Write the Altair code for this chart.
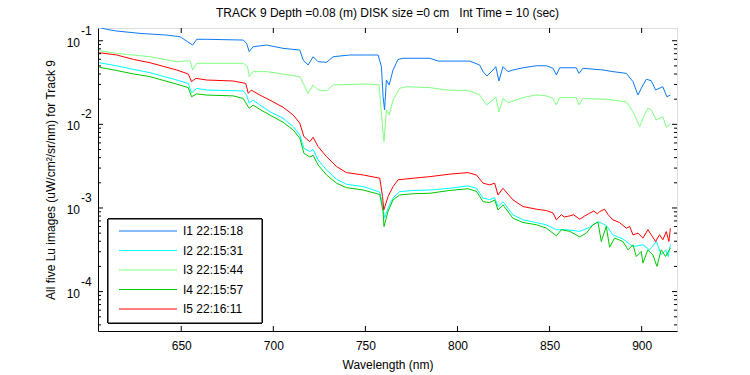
import altair as alt
import pandas as pd

# ---- data ----
series_names = ["I1 22:15:18", "I2 22:15:31", "I3 22:15:44", "I4 22:15:57", "I5 22:16:11"]
series_colors = ["#0a7af0", "#00ffff", "#80ff80", "#00c800", "#ff0000"]

wl_I1 = [605.0, 609.5, 615.0, 627.6, 642.0, 649.3, 656.2, 658.4, 663.8, 683.6, 685.5, 686.9, 689.0, 696.3,
         705.3, 714.4, 716.2, 718.9, 721.6, 724.3, 728.9, 732.5, 741.5, 750.6, 756.9, 758.7, 759.6, 760.4,
         761.4, 762.9, 765.0, 767.7, 770.5, 785.0, 789.5, 806.6, 812.0, 813.9, 816.0, 819.3, 820.8, 822.5,
         824.7, 827.4, 830.1, 835.6, 842.8, 848.3, 851.9, 853.7, 855.5, 864.5, 866.0, 868.1, 879.0, 884.4,
         891.7, 895.3, 898.0, 899.8, 902.5, 905.2, 907.6, 911.5, 913.7, 915.6]
lu_I1 = [0.145, 0.137, 0.1306, 0.1225, 0.1169, 0.1117, 0.0889, 0.104, 0.104, 0.1019, 0.0931, 0.074, 0.0847, 0.0889,
         0.0811, 0.0774, 0.0587, 0.0513, 0.0644, 0.0561, 0.0552, 0.0644, 0.0675, 0.0675, 0.0675, 0.0489, 0.0214, 0.01486,
         0.0339, 0.0296, 0.0447, 0.0598, 0.0617, 0.0617, 0.0571, 0.0571, 0.0513, 0.0427, 0.0378, 0.0447, 0.049, 0.033,
         0.049, 0.0427, 0.0447, 0.0475, 0.0502, 0.0502, 0.0468, 0.0389, 0.0475, 0.0475, 0.0407, 0.0468, 0.0447, 0.0427,
         0.0407, 0.0324, 0.0224, 0.027, 0.0346, 0.0333, 0.0258, 0.0282, 0.0214, 0.0224]

wl_I2 = [605.5, 615.0, 624.0, 633.0, 647.5, 653.8, 655.6, 658.4, 663.8, 683.6, 685.5, 686.9, 689.0, 692.7,
         698.1, 705.3, 710.8, 714.4, 716.6, 719.8, 721.6, 724.3, 728.9, 734.3, 739.7, 748.8, 757.8, 759.3,
         760.4, 762.3, 765.0, 768.6, 775.9, 785.0, 795.8, 805.7, 810.3, 813.9, 817.5, 820.2, 822.0, 824.7,
         830.1, 835.6, 842.8, 848.3, 853.7, 859.1, 866.4, 871.8, 876.3, 880.8, 884.4, 889.8, 895.3, 900.7,
         904.3, 908.0, 910.6, 913.0, 914.4, 915.6]
lu_I2 = [0.0546, 0.0501, 0.0455, 0.0415, 0.0339, 0.0309, 0.0239, 0.0269, 0.0257, 0.0251, 0.0224, 0.0179, 0.0195, 0.0171,
         0.01419, 0.01183, 0.0094, 0.00746, 0.00518, 0.00472, 0.00501, 0.00376, 0.00285, 0.00221, 0.00192, 0.0018, 0.00155, 0.00109,
         0.000755, 0.001, 0.00132, 0.00157, 0.00162, 0.00164, 0.00172, 0.00184, 0.00172, 0.00131, 0.00126, 0.00133, 0.00104, 0.00119,
         0.000828, 0.000721, 0.00067, 0.000628, 0.00055, 0.00055, 0.000525, 0.000589, 0.000689, 0.000617, 0.000476, 0.000427, 0.000346, 0.000363,
         0.000316, 0.000398, 0.000275, 0.000316, 0.000263, 0.000363]

wl_I3 = [605.5, 615.0, 633.0, 647.5, 654.7, 656.2, 658.4, 683.6, 686.0, 686.9, 689.0, 696.3, 714.4, 718.9,
         721.6, 724.3, 728.9, 732.5, 750.6, 757.4, 759.3, 760.1, 761.4, 762.9, 765.0, 768.6, 772.3, 785.0,
         794.0, 806.6, 812.0, 815.8, 819.3, 820.8, 822.5, 824.7, 827.4, 835.6, 842.8, 848.3, 851.9, 853.7,
         855.5, 864.5, 866.0, 868.1, 879.0, 884.4, 891.7, 895.3, 898.9, 900.7, 903.4, 905.2, 908.0, 911.5,
         913.4, 915.6]
lu_I3 = [0.076, 0.0706, 0.0644, 0.0561, 0.0577, 0.0447, 0.0537, 0.0537, 0.049, 0.0372, 0.0427, 0.0427, 0.0372, 0.0235,
         0.0296, 0.0257, 0.0252, 0.0296, 0.0304, 0.0296, 0.0094, 0.00621, 0.01486, 0.01294, 0.0195, 0.027, 0.0282, 0.0275,
         0.0258, 0.0252, 0.0225, 0.0171, 0.0195, 0.0214, 0.01419, 0.0204, 0.0182, 0.0209, 0.0225, 0.0219, 0.0204, 0.0171,
         0.0209, 0.0209, 0.0171, 0.0204, 0.02, 0.0195, 0.0186, 0.01419, 0.0094, 0.01175, 0.01556, 0.01486, 0.0113, 0.01236,
         0.00923, 0.01009]

wl_I4 = [605.5, 615.0, 624.0, 633.0, 647.5, 653.8, 655.6, 658.4, 663.8, 678.2, 683.6, 686.9, 689.0, 692.7,
         698.1, 705.3, 710.8, 714.4, 716.6, 719.8, 721.6, 724.3, 728.9, 734.3, 739.7, 748.8, 757.8, 759.6,
         760.1, 762.3, 765.0, 768.6, 775.9, 785.0, 795.8, 805.7, 810.3, 813.9, 817.5, 820.2, 822.0, 824.7,
         830.1, 835.6, 842.8, 848.3, 853.7, 856.4, 861.0, 866.4, 870.0, 873.5, 876.3, 878.1, 880.8, 882.6,
         885.3, 889.8, 892.6, 895.3, 897.1, 899.8, 900.7, 903.4, 906.1, 908.3, 910.6, 913.0, 915.6]
lu_I4 = [0.0481, 0.044, 0.0401, 0.0372, 0.0303, 0.0275, 0.0214, 0.0231, 0.0224, 0.0219, 0.0204, 0.01556, 0.017, 0.0151,
         0.01294, 0.01059, 0.00857, 0.00682, 0.00451, 0.00407, 0.00427, 0.00327, 0.00248, 0.00198, 0.00175, 0.00164, 0.00145, 0.000906,
         0.0006, 0.000912, 0.00125, 0.00143, 0.00148, 0.0015, 0.00162, 0.0017, 0.00158, 0.00119, 0.00116, 0.00125, 0.000948, 0.00109,
         0.000755, 0.00067, 0.000631, 0.000573, 0.000465, 0.00055, 0.000525, 0.000451, 0.000501, 0.000628, 0.000676, 0.000397, 0.000603, 0.000339,
         0.000437, 0.000398, 0.000316, 0.000363, 0.000263, 0.000302, 0.000219, 0.000316, 0.000275, 0.0002, 0.000316, 0.000263, 0.000331]

wl_I5 = [605.5, 615.0, 624.0, 633.0, 647.5, 653.8, 655.6, 658.0, 663.8, 678.2, 685.0, 686.4, 688.0, 692.7,
         698.1, 705.3, 710.8, 714.4, 716.6, 719.8, 721.6, 724.3, 728.9, 734.3, 739.7, 748.8, 757.8, 759.3,
         760.0, 762.3, 765.0, 767.7, 775.9, 785.0, 795.8, 805.7, 810.3, 813.9, 817.5, 820.2, 822.0, 824.7,
         830.1, 835.6, 842.8, 848.3, 851.9, 853.7, 856.4, 858.0, 861.0, 863.0, 866.4, 869.0, 871.8, 874.0,
         876.0, 877.2, 879.9, 881.8, 884.4, 888.0, 891.7, 893.5, 895.3, 898.0, 900.7, 903.4, 905.2, 907.6,
         909.7, 911.5, 913.4, 914.8, 915.6]
lu_I5 = [0.0719, 0.0675, 0.0598, 0.0546, 0.0447, 0.04, 0.0324, 0.0355, 0.0339, 0.033, 0.0309, 0.0235, 0.0257, 0.0224,
         0.0195, 0.016, 0.01294, 0.0103, 0.00713, 0.00621, 0.007, 0.00542, 0.00411, 0.00313, 0.00265, 0.00248, 0.00227, 0.00137,
         0.000948, 0.00137, 0.0018, 0.00217, 0.00227, 0.00237, 0.00254, 0.00265, 0.00248, 0.00198, 0.00189, 0.00198, 0.00143, 0.00172,
         0.00125, 0.00104, 0.000968, 0.000931, 0.000871, 0.000721, 0.000832, 0.00078, 0.000805, 0.00083, 0.000735, 0.0008, 0.000865, 0.00092,
         0.00085, 0.000906, 0.000968, 0.000832, 0.000721, 0.00067, 0.000573, 0.000603, 0.000476, 0.000501, 0.000436, 0.00055, 0.000479, 0.000397,
         0.000479, 0.000417, 0.000522, 0.000398, 0.000573]

x_tick_values = [650, 700, 750, 800, 850, 900]
y_major_values = [0.1, 0.01, 0.001, 0.0001]
y_major_exps = ["-1", "-2", "-3", "-4"]
y_minor_values = [m * d for d in [1e-5, 1e-4, 1e-3, 1e-2, 1e-1] for m in range(2, 10)
                  if 3.4e-5 < m * d < 0.142]

title_text = "TRACK 9 Depth =0.08 (m) DISK size =0 cm\u00a0\u00a0 Int Time = 10 (sec)"
x_title = "Wavelength (nm)"
y_title = "All five Lu images (uW/cm\u00b2/sr/nm) for Track 9"

# ---- tables ----
frames = []
for name, wl, lu in zip(series_names,
                        [wl_I1, wl_I2, wl_I3, wl_I4, wl_I5],
                        [lu_I1, lu_I2, lu_I3, lu_I4, lu_I5]):
    frames.append(pd.DataFrame({"wl": wl, "Lu": lu, "series": name}))
df = pd.concat(frames, ignore_index=True)

W, H = 579, 303
FONT = "Liberation Sans"
XDOM = [604.8, 919.2]
YDOM = [3.38e-5, 0.142]

xs = alt.Scale(domain=XDOM, nice=False, zero=False)
ys = alt.Scale(type="log", domain=YDOM, nice=False)
cs = alt.Scale(domain=series_names, range=series_colors)

x_axis = alt.Axis(values=x_tick_values, ticks=False, grid=False, labelFontSize=12, labelPadding=9,
                  labelColor="black", domainColor="black", title=x_title, titleFontSize=12,
                  titleFontWeight="normal", titlePadding=8, titleColor="black", labelFont=FONT, titleFont=FONT)
y_axis = alt.Axis(labels=False, ticks=False, grid=False, domainColor="black", title=y_title,
                  titleFontSize=12, titleFontWeight="normal", titlePadding=41, titleColor="black",
                  titleFont=FONT)

X = alt.X("wl:Q", scale=xs, axis=x_axis, title=x_title)
Y = alt.Y("Lu:Q", scale=ys, axis=y_axis, title=y_title)

lines = alt.Chart(df).mark_line(strokeWidth=1, clip=True, interpolate="linear").encode(
    x=X, y=Y,
    color=alt.Color("series:N", scale=cs, legend=None),
    detail="series:N",
)

xt = pd.DataFrame({"wl": x_tick_values})
xticks_bottom = alt.Chart(xt).mark_rule(color="black", strokeWidth=1).encode(
    x=X, y=alt.value(H), y2=alt.value(H - 5))
xticks_top = alt.Chart(xt).mark_rule(color="black", strokeWidth=1).encode(
    x=X, y=alt.value(0), y2=alt.value(5))

ymaj = pd.DataFrame({"Lu": y_major_values, "exp": y_major_exps})
ymin = pd.DataFrame({"Lu": y_minor_values})
yt_left = alt.Chart(ymaj).mark_rule(color="black").encode(y=Y, x=alt.value(0), x2=alt.value(5))
yt_right = alt.Chart(ymaj).mark_rule(color="black").encode(y=Y, x=alt.value(W), x2=alt.value(W - 5))
ym_left = alt.Chart(ymin).mark_rule(color="black").encode(y=Y, x=alt.value(0), x2=alt.value(3))
ym_right = alt.Chart(ymin).mark_rule(color="black").encode(y=Y, x=alt.value(W), x2=alt.value(W - 3))

ylab10 = alt.Chart(ymaj).mark_text(text="10", align="right", baseline="middle", dy=2,
                                    fontSize=12, font=FONT, color="black").encode(
    y=Y, x=alt.value(-18))
ylabexp = alt.Chart(ymaj).mark_text(align="left", baseline="middle", dy=-10,
                                     fontSize=12, font=FONT, color="black").encode(
    y=Y, x=alt.value(-17), text="exp:N")

# ---- legend (manual, boxed like MATLAB) ----
leg = pd.DataFrame({"series": series_names})
leg_box = alt.Chart(leg).mark_rect(fill="white", stroke="black", strokeWidth=1).encode(
    x=alt.value(10), x2=alt.value(164), y=alt.value(191), y2=alt.value(295))
leg_y = alt.Y("series:N", scale=alt.Scale(type="point", domain=series_names, range=[203, 281], padding=0),
              axis=None)
leg_lines = alt.Chart(leg).mark_rule(strokeWidth=1).encode(
    x=alt.value(21), x2=alt.value(79), y=leg_y,
    color=alt.Color("series:N", scale=cs, legend=None))
leg_text = alt.Chart(leg).mark_text(align="left", baseline="middle", fontSize=12, font=FONT,
                                    color="black").encode(
    x=alt.value(85), y=leg_y, text="series:N")

main = alt.layer(lines, xticks_bottom, xticks_top, yt_left, yt_right, ym_left, ym_right,
                 ylab10, ylabexp)
legend = alt.layer(leg_box, leg_lines, leg_text)

chart = alt.layer(main, legend).resolve_scale(y="independent").properties(
    width=W, height=H,
    title=alt.TitleParams(title_text, fontSize=12, fontWeight="normal", font=FONT, color="black",
                          anchor="middle", offset=5),
    autosize=alt.AutoSizeParams(type="none"),
    padding={"left": 98, "top": 28, "right": 73, "bottom": 44},
).configure_view(stroke="black", strokeWidth=1).configure(background="white")

chart.save("out.html", embed_options={"renderer": "svg", "actions": False})
